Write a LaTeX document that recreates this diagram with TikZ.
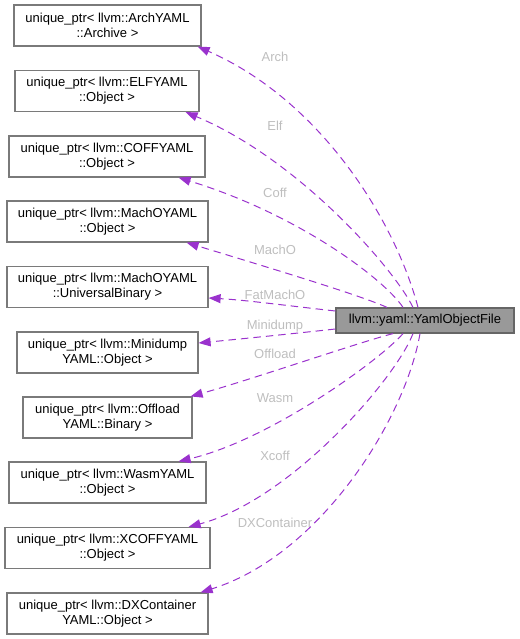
\documentclass[tikz,border=0pt]{standalone}
\usepackage{fontspec}
\setmainfont{Liberation Sans}
\usetikzlibrary{arrows.meta}
\definecolor{edgecol}{HTML}{9A32CD}
\definecolor{labcol}{HTML}{BEBEBE}
\definecolor{boxline}{HTML}{7A7A7A}
\definecolor{rootline}{HTML}{666666}
\definecolor{rootfill}{HTML}{999999}
\tikzset{
  every node/.style={font=\fontsize{13}{15}\selectfont},
  box/.style={draw=boxline, line width=1.2pt, fill=white, minimum height=41, align=center, inner sep=0pt},
  rootbox/.style={draw=rootline, line width=1.2pt, fill=rootfill, minimum height=25, minimum width=178, inner sep=0pt},
  edge/.style={draw=edgecol, line width=1pt, dash pattern=on 7.5pt off 5pt, -{Triangle[length=12pt,width=9pt]}},
  elabel/.style={text=labcol, inner sep=0pt}
}
\begin{document}
\begin{tikzpicture}[x=1pt,y=-1pt]
\useasboundingbox (0,0) rectangle (519,639);
\node[rootbox] (c) at (425,320.5) {llvm::yaml::YamlObjectFile};
\node[box, minimum width=187] (arch) at (107.5,25.5) {unique\_ptr< llvm::ArchYAML\\::Archive >};
\node[box, minimum width=184] (elf) at (107,91) {unique\_ptr< llvm::ELFYAML\\::Object >};
\node[box, minimum width=196] (coff) at (107,156.5) {unique\_ptr< llvm::COFFYAML\\::Object >};
\node[box, minimum width=201] (macho) at (107.5,221.5) {unique\_ptr< llvm::MachOYAML\\::Object >};
\node[box, minimum width=201] (fat) at (107.5,287) {unique\_ptr< llvm::MachOYAML\\::UniversalBinary >};
\node[box, minimum width=181] (mini) at (107.5,352.5) {unique\_ptr< llvm::Minidump\\YAML::Object >};
\node[box, minimum width=169] (off) at (107.5,417.5) {unique\_ptr< llvm::Offload\\YAML::Binary >};
\node[box, minimum width=197] (wasm) at (107.5,482.5) {unique\_ptr< llvm::WasmYAML\\::Object >};
\node[box, minimum width=205] (xcoff) at (107.5,548) {unique\_ptr< llvm::XCOFFYAML\\::Object >};
\node[box, minimum width=201] (dx) at (107.5,613.5) {unique\_ptr< llvm::DXContainer\\YAML::Object >};

\draw[edge] ([xshift=-7pt]c.north) .. controls (395,220) and (320,100) .. ([xshift=-4pt]arch.south east);
\draw[edge] ([xshift=-12pt]c.north) .. controls (395,270) and (300,160) .. ([xshift=-14pt]elf.south east);
\draw[edge] ([xshift=-22pt]c.north) .. controls (385,280) and (300,215) .. ([xshift=-27pt]coff.south east);
\draw[edge] ([xshift=-38pt]c.north) .. controls (360,295) and (260,265) .. ([xshift=-22pt]macho.south east);
\draw[edge] ([yshift=9.5pt]c.west) .. controls (290,306) and (245,300) .. ([yshift=-11pt]fat.east);
\draw[edge] ([yshift=-8.5pt]c.west) .. controls (290,334) and (240,339) .. ([yshift=9.5pt]mini.east);
\draw[edge] ([xshift=-32pt]c.south) .. controls (360,342) and (250,380) .. ([xshift=-2pt]off.north east);
\draw[edge] ([xshift=-22pt]c.south) .. controls (380,360) and (270,440) .. ([xshift=-28pt]wasm.north east);
\draw[edge] ([xshift=-12pt]c.south) .. controls (395,380) and (290,500) .. ([xshift=-22pt]xcoff.north east);
\draw[edge] ([xshift=-5pt]c.south) .. controls (405,420) and (320,555) .. ([xshift=-8pt]dx.north east);

\node[elabel] (lArch) at (275,57) {Arch};
\node[elabel] (lElf) at (275,126) {Elf};
\node[elabel] (lCoff) at (275,193) {Coff};
\node[elabel] (lMachO) at (275,250) {MachO};
\node[elabel] (lFat) at (275,294.5) {FatMachO};
\node[elabel] (lMini) at (275,326.5) {Minidump};
\node[elabel] (lOff) at (275,354) {Offload};
\node[elabel] (lWasm) at (275,398) {Wasm};
\node[elabel] (lXcoff) at (275,455.5) {Xcoff};
\node[elabel] (lDX) at (275,522.5) {DXContainer};
\end{tikzpicture}
\end{document}
